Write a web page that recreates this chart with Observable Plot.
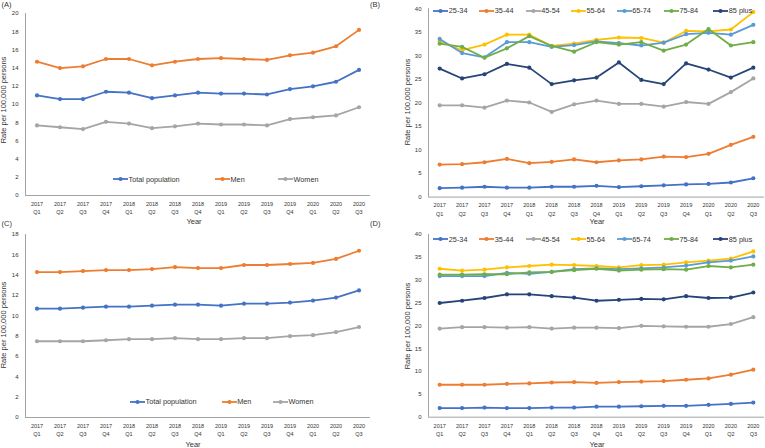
<!DOCTYPE html>
<html><head><meta charset="utf-8">
<script src="https://cdn.jsdelivr.net/npm/d3@7"></script>
<script src="https://cdn.jsdelivr.net/npm/@observablehq/plot@0.6"></script>
<style>
body{margin:0;background:#fff;}
#root{position:relative;width:765px;height:448px;overflow:hidden;font-family:"Liberation Sans",Arial,sans-serif;color:#333;}
.abs{position:absolute;white-space:nowrap;line-height:1;}
.panel{position:absolute;}
.leg{position:absolute;display:flex;align-items:center;white-space:nowrap;font-size:7.3px;height:8px;}
</style></head><body><div id="root"></div>
<script>
const quarters = ["2017 Q1","2017 Q2","2017 Q3","2017 Q4","2018 Q1","2018 Q2","2018 Q3","2018 Q4","2019 Q1","2019 Q2","2019 Q3","2019 Q4","2020 Q1","2020 Q2","2020 Q3"];
const sexSeries = ["Total population","Men","Women"];
const sexColors = ["#4472C4","#ED7D31","#A5A5A5"];
const ageSeries = ["25-34","35-44","45-54","55-64","65-74","75-84","85 plus"];
const ageColors = ["#4472C4","#ED7D31","#A5A5A5","#FFC000","#5B9BD5","#70AD47","#264478"];

// Panel A
const aTotal = [11.0,10.6,10.6,11.4,11.3,10.7,11.0,11.3,11.2,11.2,11.1,11.7,12.0,12.5,13.8];
const aMen   = [14.7,14.0,14.2,15.0,15.0,14.3,14.7,15.0,15.1,15.0,14.9,15.4,15.7,16.4,18.2];
const aWomen = [7.7,7.5,7.3,8.1,7.9,7.4,7.6,7.9,7.8,7.8,7.7,8.4,8.6,8.8,9.7];

// Panel B
const b2534 = [1.9,2.0,2.2,2.0,2.0,2.2,2.2,2.4,2.1,2.3,2.5,2.7,2.8,3.1,4.0];
const b3544 = [6.9,7.0,7.4,8.1,7.2,7.5,8.0,7.4,7.8,8.0,8.6,8.5,9.2,11.1,12.8];
const b4554 = [19.5,19.5,19.0,20.5,20.1,18.1,19.7,20.5,19.8,19.8,19.2,20.2,19.8,22.3,25.2];
const b5564 = [33.1,31.2,32.4,34.5,34.5,32.1,32.6,33.4,33.9,33.8,32.8,35.3,35.2,35.6,39.3];
const b6574 = [33.6,30.6,29.7,32.9,32.9,31.9,32.3,33.1,32.7,32.2,32.8,34.6,34.9,34.5,36.6];
const b7584 = [32.6,31.9,29.6,31.6,34.2,32.1,30.9,32.9,32.4,32.9,31.1,32.4,35.7,32.2,32.9];
const b85p  = [27.3,25.2,26.1,28.3,27.5,24.0,24.8,25.4,28.6,24.9,24.0,28.4,27.1,25.4,27.5];

// Panel C
const cTotal = [10.7,10.7,10.8,10.9,10.9,11.0,11.1,11.1,11.0,11.2,11.2,11.3,11.5,11.8,12.5];
const cMen   = [14.3,14.3,14.4,14.5,14.5,14.6,14.8,14.7,14.7,15.0,15.0,15.1,15.2,15.6,16.4];
const cWomen = [7.5,7.5,7.5,7.6,7.7,7.7,7.8,7.7,7.7,7.8,7.8,8.0,8.1,8.4,8.9];

// Panel D
const d2534 = [2.0,2.0,2.1,2.0,2.0,2.1,2.1,2.3,2.3,2.4,2.5,2.5,2.7,2.9,3.2];
const d3544 = [7.1,7.1,7.1,7.3,7.4,7.6,7.7,7.5,7.7,7.8,7.9,8.2,8.5,9.3,10.4];
const d4554 = [19.4,19.7,19.7,19.6,19.7,19.4,19.6,19.6,19.5,20.0,19.9,19.8,19.8,20.4,21.9];
const d5564 = [32.5,32.1,32.3,32.8,33.1,33.4,33.3,33.1,32.8,33.3,33.4,33.9,34.3,34.7,36.3];
const d6574 = [30.9,30.9,30.9,31.6,31.4,31.8,32.4,32.6,32.4,32.6,32.8,33.2,33.9,34.3,35.2];
const d7584 = [31.2,31.2,31.3,31.3,31.7,31.8,32.2,32.5,32.1,32.3,32.4,32.3,33.1,32.8,33.4];
const d85p  = [25.0,25.5,26.1,26.9,26.9,26.5,26.2,25.5,25.7,25.9,25.8,26.5,26.1,26.2,27.3];

const yTitle = "Rate per 100,000 persons";
const xTitle = "Year";

const panels = [
  {label:"(A)", left:0, top:0, width:380, height:222, mL:25, mR:10, mT:13, mB:27, yMax:20, yStep:2,
   names:sexSeries, colors:sexColors, values:[aTotal,aMen,aWomen],
   legX:[113,215,278], legY:179.3, labPos:[1.5,5], yTitlePos:[3.8,100], xTitlePos:[194,222]},
  {label:"(B)", left:383, top:0, width:382, height:222, mL:45, mR:1, mT:8.3, mB:25.4, yMax:40, yStep:5,
   names:ageSeries, colors:ageColors, values:[b2534,b3544,b4554,b5564,b6574,b7584,b85p],
   legX:[433.3,479.3,525.7,571,616.7,664,713.3], legY:10.7, labPos:[370,5], yTitlePos:[407.5,102], xTitlePos:[597,222]},
  {label:"(C)", left:0, top:222, width:380, height:226, mL:25, mR:10, mT:12, mB:31, yMax:18, yStep:2,
   names:sexSeries, colors:sexColors, values:[cTotal,cMen,cWomen],
   legX:[130,221.7,273], legY:401.7, labPos:[1.5,224], yTitlePos:[4,325], xTitlePos:[193,445]},
  {label:"(D)", left:383, top:222, width:382, height:226, mL:45, mR:1, mT:12, mB:31.3, yMax:40, yStep:5,
   names:ageSeries, colors:ageColors, values:[d2534,d3544,d4554,d5564,d6574,d7584,d85p],
   legX:[433.3,479.3,525.7,571,616.7,664,713.3], legY:239, labPos:[370,224], yTitlePos:[407.5,326], xTitlePos:[597,444.5]}
];

const root = document.getElementById("root");
const axisColor = "#8c8c8c";
const xDomain = [-0.5, quarters.length - 0.5];

function text(str, x, y, size, opts = {}) {
  const el = document.createElement("div");
  el.className = "abs";
  el.textContent = str;
  el.style.fontSize = size + "px";
  el.style.left = x + "px";
  el.style.top = y + "px";
  el.style.transform = opts.transform || "translate(0,-50%)";
  root.appendChild(el);
  return el;
}

for (const p of panels) {
  const marks = [
    Plot.axisY(d3.range(0, p.yMax + 0.001, p.yStep), {tickSize:0, tickPadding:7, fontSize:6, label:null}),
    Plot.axisX(d3.range(quarters.length), {tickSize:0, tickPadding:4.5, fontSize:5.5, lineHeight:1.5,
      tickFormat: i => quarters[i].replace(" ", "\n"), label:null}),
    Plot.ruleY([0], {stroke: axisColor, strokeWidth: 0.8}),
    Plot.ruleX([xDomain[0]], {stroke: axisColor, strokeWidth: 0.8})
  ];
  p.names.forEach((name, s) => {
    const rows = p.values[s].map((v, i) => ({q: i, v}));
    marks.push(Plot.line(rows, {x:"q", y:"v", stroke:p.colors[s], strokeWidth:1.8, curve:"linear"}));
    marks.push(Plot.dot(rows, {x:"q", y:"v", fill:p.colors[s], r:2.1, stroke:"none"}));
  });
  const chart = Plot.plot({
    width:p.width, height:p.height,
    marginLeft:p.mL, marginRight:p.mR, marginTop:p.mT, marginBottom:p.mB,
    x:{type:"linear", domain:xDomain},
    y:{type:"linear", domain:[0, p.yMax]},
    style:{fontFamily:'"Liberation Sans",Arial,sans-serif', color:"#333", background:"transparent", overflow:"visible"},
    marks
  });
  const wrap = document.createElement("div");
  wrap.className = "panel";
  wrap.style.left = p.left + "px";
  wrap.style.top = p.top + "px";
  wrap.appendChild(chart);
  root.appendChild(wrap);

  // panel label
  text(p.label, p.labPos[0], p.labPos[1], 7.5);
  // axis titles
  text(xTitle, p.xTitlePos[0], p.xTitlePos[1], 7.5, {transform:"translate(-50%,-50%)"});
  text(yTitle, p.yTitlePos[0], p.yTitlePos[1], 7.5, {transform:"translate(-50%,-50%) rotate(-90deg)"});

  // legend
  p.names.forEach((name, s) => {
    const item = document.createElement("div");
    item.className = "leg";
    item.style.left = p.legX[s] + "px";
    item.style.top = (p.legY - 4) + "px";
    const ns = "http://www.w3.org/2000/svg";
    const svg = document.createElementNS(ns, "svg");
    svg.setAttribute("width", 15); svg.setAttribute("height", 8);
    const ln = document.createElementNS(ns, "line");
    ln.setAttribute("x1", 0); ln.setAttribute("x2", 15); ln.setAttribute("y1", 4); ln.setAttribute("y2", 4);
    ln.setAttribute("stroke", p.colors[s]); ln.setAttribute("stroke-width", 1.8);
    const c = document.createElementNS(ns, "circle");
    c.setAttribute("cx", 7.5); c.setAttribute("cy", 4); c.setAttribute("r", 2.1); c.setAttribute("fill", p.colors[s]);
    svg.appendChild(ln); svg.appendChild(c);
    const t = document.createElement("span");
    t.textContent = name;
    t.style.marginLeft = "0.5px";
    item.appendChild(svg); item.appendChild(t);
    root.appendChild(item);
  });
}
</script></body></html>
